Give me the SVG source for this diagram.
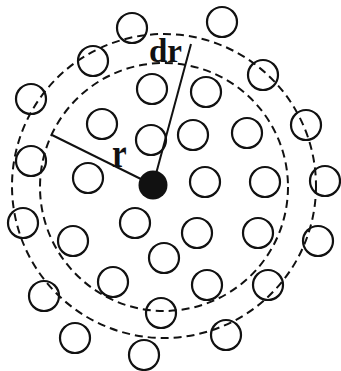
<svg xmlns="http://www.w3.org/2000/svg" width="341" height="371" viewBox="0 0 341 371">
<style>
.p{fill:none;stroke:#111;stroke-width:2.2}
.d{fill:none;stroke:#111;stroke-width:2;stroke-dasharray:8 5}
.l{stroke:#111;stroke-width:2}
.t{font-family:"Liberation Serif","Times New Roman",serif;font-size:33px;font-weight:bold;fill:#111}
</style>
<rect width="341" height="371" fill="#fff"/>
<g id="shells">
<circle class="d" cx="164" cy="187" r="124"/>
<circle class="d" cx="164" cy="186" r="152"/>
</g>
<g id="particles">
<circle class="p" cx="132" cy="28" r="15"/>
<circle class="p" cx="222" cy="22" r="15"/>
<circle class="p" cx="93" cy="61" r="15"/>
<circle class="p" cx="263" cy="75" r="15"/>
<circle class="p" cx="31" cy="99" r="15"/>
<circle class="p" cx="152" cy="89" r="15"/>
<circle class="p" cx="206" cy="92" r="15"/>
<circle class="p" cx="306" cy="125" r="15"/>
<circle class="p" cx="102" cy="124" r="15"/>
<circle class="p" cx="151" cy="140" r="15"/>
<circle class="p" cx="193" cy="135" r="15"/>
<circle class="p" cx="247" cy="133" r="15"/>
<circle class="p" cx="31" cy="161" r="15"/>
<circle class="p" cx="88" cy="178" r="15"/>
<circle class="p" cx="205" cy="182" r="15"/>
<circle class="p" cx="265" cy="182" r="15"/>
<circle class="p" cx="325" cy="181" r="15"/>
<circle class="p" cx="23" cy="223" r="15"/>
<circle class="p" cx="135" cy="223" r="15"/>
<circle class="p" cx="197" cy="233" r="15"/>
<circle class="p" cx="258" cy="233" r="15"/>
<circle class="p" cx="318" cy="241" r="15"/>
<circle class="p" cx="73" cy="241" r="15"/>
<circle class="p" cx="164" cy="258" r="15"/>
<circle class="p" cx="113" cy="282" r="15"/>
<circle class="p" cx="207" cy="285" r="15"/>
<circle class="p" cx="268" cy="285" r="15"/>
<circle class="p" cx="44" cy="296" r="15"/>
<circle class="p" cx="161" cy="313" r="15"/>
<circle class="p" cx="75" cy="338" r="15"/>
<circle class="p" cx="226" cy="335" r="15"/>
<circle class="p" cx="144" cy="355" r="15"/>
</g>
<g id="connectors">
<line class="l" x1="52" y1="135" x2="153" y2="185"/>
<line class="l" x1="153" y1="185" x2="191" y2="44"/>
</g>
<g id="center">
<circle cx="153" cy="185" r="14.5" fill="#111"/>
</g>
<g id="labels">
<text class="t" transform="translate(112 167) scale(1 1.3)">r</text>
<text class="t" x="149" y="62">dr</text>
</g>
</svg>
